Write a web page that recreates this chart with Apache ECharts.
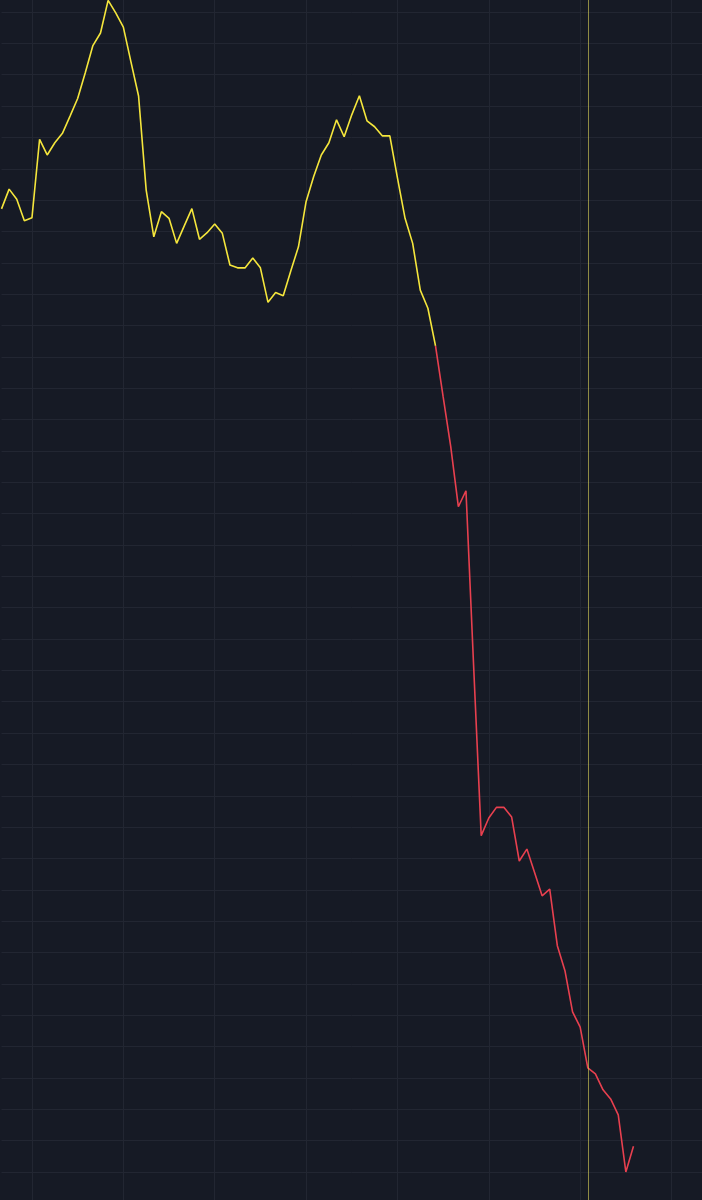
<!DOCTYPE html>
<html>
<head>
<meta charset="utf-8">
<script src="https://cdn.jsdelivr.net/npm/echarts@6/dist/echarts.min.js"></script>
<style>
html,body{margin:0;padding:0;background:#161a25;}
#chart{width:702px;height:1200px;}
</style>
</head>
<body>
<div id="chart"></div>
<script>
// category slots (one per bar/period), incl. empty space on the right
const categories = Array.from({length: 93}, (_, i) => String(i));
// price values
const values = [
  317.2, 323.5, 320.3, 313.4, 314.4, 339.4, 334.4, 338.3, 341.3, 346.8,
  352.4, 360.6, 369.3, 373.3, 383.7, 379.7, 375.2, 364.1, 353.2, 323.2,
  308.3, 316.3, 314.2, 306.2, 311.8, 317.3, 307.5, 309.6, 312.4, 309.4,
  299.3, 298.4, 298.4, 301.5, 298.4, 287.4, 290.5, 289.5, 297.5, 305.1,
  319.5, 327.5, 334.4, 338.3, 345.6, 340.2, 347.2, 353.3, 345.3, 343.4,
  340.5, 340.5, 327.1, 314.2, 306.2, 291.3, 285.5, 273.5, 257.3, 241.4,
  222.2, 227.3, 171.7, 117.3, 122.9, 126.3, 126.3, 123.2, 109.2, 113.0,
  105.6, 98.1, 100.2, 82.2, 74.2, 61.1, 56.2, 43.2, 41.3, 36.2,
  33.3, 28.2, 10.0, 18.2
];
const splitIndex = 57;   // colour changes from yellow to red here
const markerIndex = 77;  // vertical marker line
const yTicks = {min: 10, max: 380, interval: 10};

const yellowData = categories.map((c, i) => (i <= splitIndex && i < values.length) ? values[i] : null);
const redData = categories.map((c, i) => (i >= splitIndex && i < values.length) ? values[i] : null);

const gridColor = '#222632';
const hidden = {axisLine: {show: false}, axisTick: {show: false}, axisLabel: {show: false}};

const chart = echarts.init(document.getElementById('chart'), null, {renderer: 'canvas'});
chart.setOption({
  backgroundColor: '#161a25',
  animation: false,
  grid: [
    {left: 1.52, right: 0, top: 0, bottom: 0, containLabel: false},
    {left: 1.52, right: 0, top: 12, bottom: 28, containLabel: false}
  ],
  xAxis: [
    Object.assign({
      type: 'category', gridIndex: 0, data: categories, boundaryGap: false,
      splitLine: {
        show: true,
        interval: (idx) => (idx - 4) % 12 === 0,
        lineStyle: {color: gridColor, width: 1}
      }
    }, hidden),
    Object.assign({
      type: 'category', gridIndex: 1, data: categories, boundaryGap: false,
      splitLine: {show: false}
    }, hidden)
  ],
  yAxis: [
    Object.assign({type: 'value', gridIndex: 0, min: 0, max: 1, splitLine: {show: false}}, hidden),
    Object.assign({
      type: 'value', gridIndex: 1,
      min: yTicks.min, max: yTicks.max, interval: yTicks.interval,
      splitLine: {show: true, lineStyle: {color: gridColor, width: 1}}
    }, hidden)
  ],
  series: [
    {
      type: 'line',
      xAxisIndex: 1, yAxisIndex: 1,
      data: yellowData,
      symbol: 'none',
      clip: false,
      connectNulls: false,
      lineStyle: {color: '#f5e63c', width: 1.6},
      z: 3
    },
    {
      type: 'line',
      xAxisIndex: 1, yAxisIndex: 1,
      data: redData,
      symbol: 'none',
      clip: false,
      connectNulls: false,
      lineStyle: {color: '#e8404f', width: 1.6},
      z: 3,
      markLine: {
        silent: true,
        symbol: 'none',
        label: {show: false},
        lineStyle: {color: 'rgba(225,215,90,0.6)', width: 1, type: 'solid'},
        data: [
          [{xAxis: categories[markerIndex], y: 0}, {xAxis: categories[markerIndex], y: 1200}]
        ]
      }
    }
  ]
});
</script>
</body>
</html>
